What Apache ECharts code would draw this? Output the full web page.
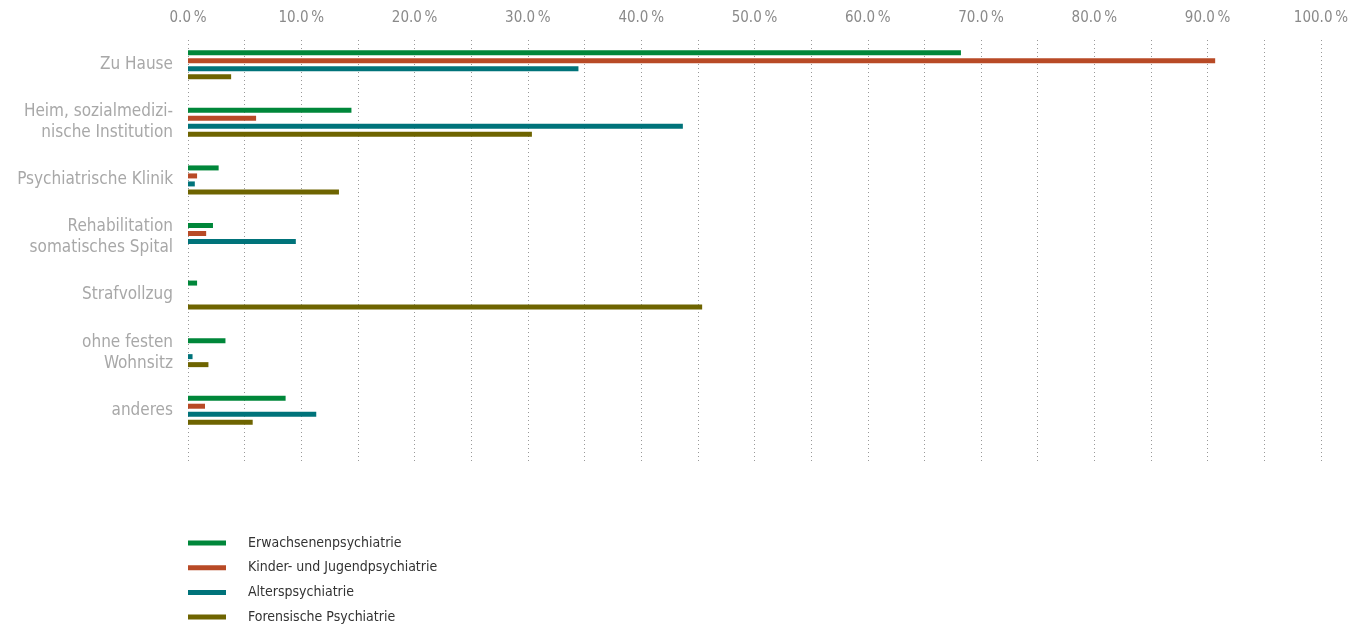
<!DOCTYPE html>
<html><head><meta charset="utf-8">
<script src="https://cdn.jsdelivr.net/npm/echarts@6/dist/echarts.min.js"></script>
<style>html,body{margin:0;padding:0;background:#fff}#c{width:1351px;height:628px}</style>
</head><body><div id="c"></div>
<script>
const categories = ['Zu Hause', 'Heim, sozialmedizi-\nnische Institution', 'Psychiatrische Klinik', 'Rehabilitation\nsomatisches Spital', 'Strafvollzug', 'ohne festen\nWohnsitz', 'anderes'];
const seriesNames = ['Erwachsenenpsychiatrie', 'Kinder- und Jugendpsychiatrie', 'Alterspsychiatrie', 'Forensische Psychiatrie'];
const erwachsenen = [68.1, 14.4, 2.7, 2.2, 0.8, 3.3, 8.6];
const kinder = [90.5, 6.0, 0.8, 1.6, 0, 0, 1.5];
const alters = [34.4, 43.6, 0.6, 9.5, 0, 0.4, 11.3];
const forensisch = [3.8, 30.3, 13.3, 0, 45.3, 1.8, 5.7];
const xTicks = [0, 10, 20, 30, 40, 50, 60, 70, 80, 90, 100];

const colors = ['#00873a', '#b84a26', '#00737a', '#6e6400'];
const FONT = "'Liberation Sans Narrow', 'DejaVu Sans Condensed', sans-serif";
const values = [erwachsenen, kinder, alters, forensisch];

const chart = echarts.init(document.getElementById('c'));
chart.setOption({
  animation: false,
  textStyle: { fontFamily: FONT },
  color: colors,
  grid: [
    { left: 188, width: 1135, top: 36, height: 403 },
    { left: 188, width: 1135, top: 40, height: 422 }
  ],
  legend: {
    orient: 'vertical', left: 188, top: 536, height: 92, padding: 0,
    icon: 'rect', itemWidth: 38, itemHeight: 5, itemGap: 10.7,
    data: seriesNames,
    textStyle: { fontFamily: FONT, fontSize: 14, color: '#333', padding: [0, 0, 0, 17] }
  },
  xAxis: [
    { gridIndex: 0, type: 'value', position: 'top', min: 0, max: 100, interval: 5,
      axisLine: { show: false }, axisTick: { show: false }, splitLine: { show: false },
      axisLabel: { show: false } },
    { gridIndex: 1, type: 'value', position: 'top', min: 0, max: 100, interval: 5,
      axisLine: { show: false }, axisTick: { show: false },
      splitLine: { show: true, lineStyle: { type: [1, 3], color: '#999', width: 1 } },
      axisLabel: { color: '#8a8a8a', fontSize: 15, margin: 14, fontFamily: FONT,
        formatter: v => xTicks.includes(v) ? v.toFixed(1) + '\u2009%' : '' } }
  ],
  yAxis: [
    { gridIndex: 0, type: 'category', data: categories, inverse: true,
      axisLine: { show: false }, axisTick: { show: false },
      axisLabel: { color: '#a8a8a8', fontSize: 17, margin: 15, lineHeight: 21, align: 'right', fontFamily: FONT } },
    { gridIndex: 1, type: 'value', show: false }
  ],
  series: seriesNames.map((n, i) => ({
    name: n, type: 'bar', xAxisIndex: 0, yAxisIndex: 0,
    data: values[i], barWidth: 5, barGap: '60%',
    itemStyle: { color: colors[i] }
  }))
});
</script></body></html>
